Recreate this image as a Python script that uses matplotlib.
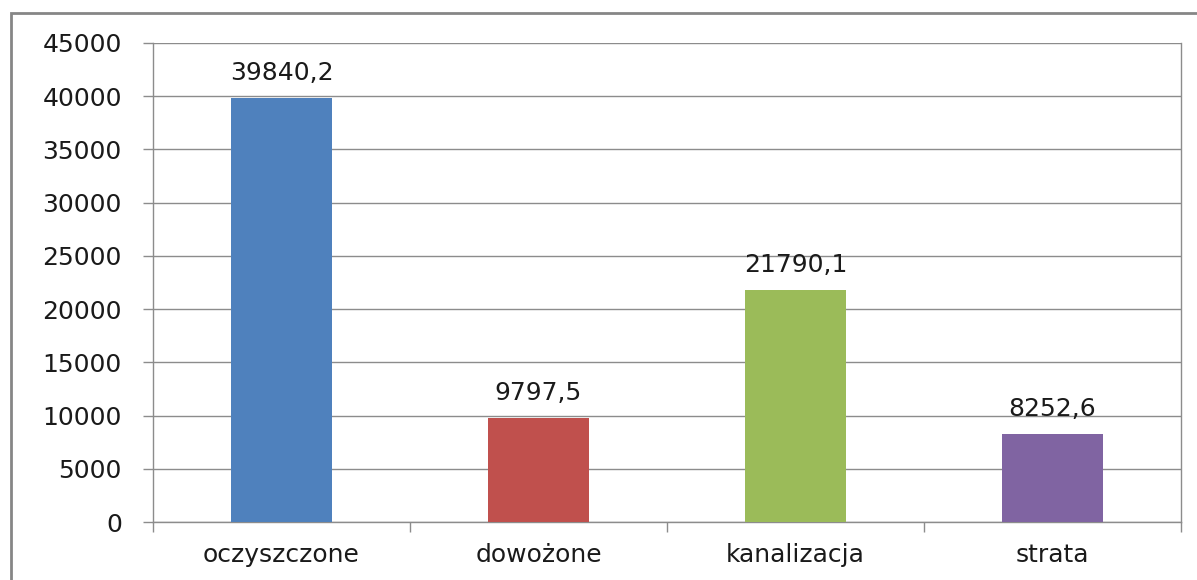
import numpy as np
import matplotlib.pyplot as plt
from matplotlib.patches import Rectangle

# dane
categories = ["oczyszczone", "dowożone", "kanalizacja", "strata"]
values = [39840.2, 9797.5, 21790.1, 8252.6]
labels = ["39840,2", "9797,5", "21790,1", "8252,6"]
colors = ["#4F81BD", "#C0504D", "#9BBB59", "#8064A2"]
y_ticks = [0, 5000, 10000, 15000, 20000, 25000, 30000, 35000, 40000, 45000]

plt.rcParams['font.family'] = ['DejaVu Sans']
grid_col = "#8C8C8C"
txt_col = "#1A1A1A"
fs = 18

fig = plt.figure(figsize=(11.97, 5.8), dpi=100)
ax = fig.add_axes([153 / 1197, 1 - 522 / 580, (1181 - 153) / 1197, (522 - 43) / 580])

x = np.arange(len(categories))
ax.bar(x, values, width=0.39, color=colors, zorder=3)

for xi, v, lab in zip(x, values, labels):
    ax.annotate(lab, (xi, v), xytext=(0, 18), textcoords="offset points",
                ha='center', va='center', fontsize=fs, color=txt_col)

ax.set_xlim(-0.5, len(categories) - 0.5)
ax.set_ylim(0, 45000)
ax.set_yticks(y_ticks)
ax.set_yticklabels([str(t) for t in y_ticks], fontsize=fs, color=txt_col)
ax.yaxis.grid(True, color=grid_col, linewidth=1.0, zorder=0)

ax.set_xticks(x)
ax.set_xticklabels(categories, fontsize=fs, color=txt_col)
ax.set_xticks(np.arange(-0.5, len(categories), 1.0), minor=True)
ax.tick_params(axis='x', which='major', length=0, pad=15)
ax.tick_params(axis='x', which='minor', length=7.5, width=1.0, color=grid_col)
ax.tick_params(axis='y', length=7.5, width=1.0, color=grid_col, pad=15)

for side in ['left', 'bottom', 'right']:
    ax.spines[side].set_color(grid_col)
    ax.spines[side].set_linewidth(1.0)
ax.spines['top'].set_visible(False)

# obramowanie wykresu
fig.patches.append(Rectangle((11 / 1197, -0.1), 1.2, 1 - 13 / 580 + 0.1,
                             transform=fig.transFigure, fill=False,
                             edgecolor="#868686", linewidth=2.0))

fig.savefig("out.png", dpi=100)
